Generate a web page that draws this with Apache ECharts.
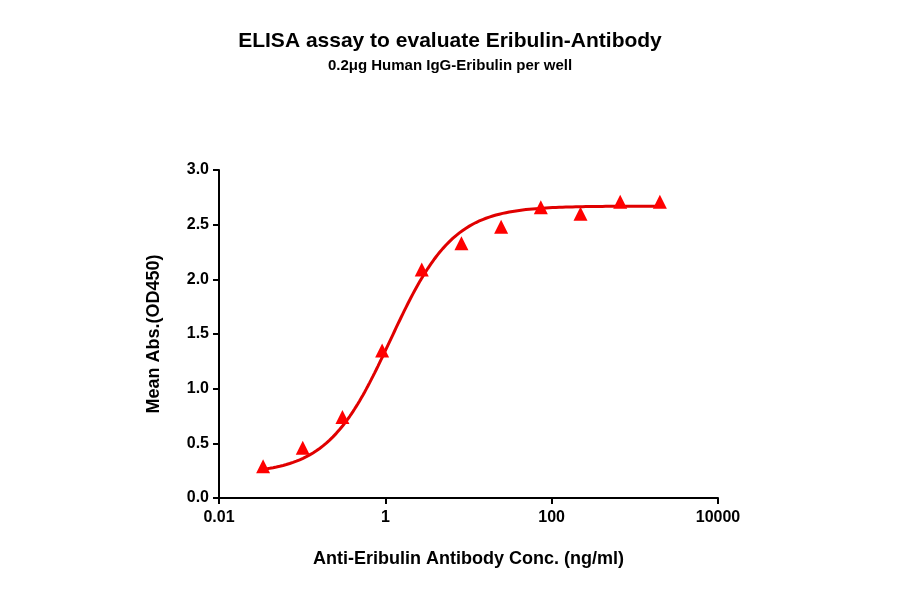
<!DOCTYPE html>
<html><head><meta charset="utf-8">
<script src="https://cdn.jsdelivr.net/npm/echarts@6/dist/echarts.min.js"></script>
<style>html,body{margin:0;padding:0;background:#fff}#c{width:900px;height:594px}</style>
</head><body><div id="c"></div>
<script>
const conc = [0.0339,0.1016,0.3048,0.9145,2.743,8.23,24.69,74.07,222.2,666.7,2000];
const od = [0.29,0.46,0.74,1.35,2.09,2.33,2.48,2.66,2.60,2.71,2.71];
const xTicks = ['0.01','1','100','10000'];
const fit = {bottom:0.22, top:2.67, ec50:1.15, hill:1.15};
const curve = [];
for (let e = Math.log10(0.0339); e <= Math.log10(2000)+1e-9; e += 0.02) {
  const x = Math.pow(10,e);
  curve.push([x, fit.bottom + (fit.top-fit.bottom)/(1+Math.pow(fit.ec50/x, fit.hill))]);
}
const font = 'Arial, "Liberation Sans", sans-serif';
const ch = echarts.init(document.getElementById('c'));
ch.setOption({
  animation:false,
  title:{text:'ELISA assay to evaluate Eribulin-Antibody',subtext:'0.2μg Human IgG-Eribulin per well',left:'center',top:26,itemGap:6,
    textStyle:{fontFamily:font,fontSize:21,fontWeight:'bold',color:'#000'},
    subtextStyle:{fontFamily:font,fontSize:15,fontWeight:'bold',color:'#000'}},
  grid:{left:219,right:182,top:170,bottom:96},
  xAxis:{type:'log',logBase:10,min:0.01,max:10000,interval:2,
    name:'Anti-Eribulin Antibody Conc. (ng/ml)',nameLocation:'middle',nameGap:52,
    nameTextStyle:{fontFamily:font,fontSize:18,fontWeight:'bold',color:'#000'},
    axisLine:{lineStyle:{color:'#000',width:2}},axisTick:{lineStyle:{color:'#000',width:2},length:6},
    splitLine:{show:false},minorTick:{show:false},
    axisLabel:{fontFamily:font,fontSize:16,fontWeight:'bold',color:'#000',margin:12,
      formatter:v=>{const s=String(+v.toPrecision(3));return xTicks.includes(s)?s:'';}}},
  yAxis:{type:'value',min:0,max:3,interval:0.5,
    name:'Mean Abs.(OD450)',nameLocation:'middle',nameGap:56,
    nameTextStyle:{fontFamily:font,fontSize:18,fontWeight:'bold',color:'#000'},
    axisLine:{show:true,lineStyle:{color:'#000',width:2}},axisTick:{show:true,lineStyle:{color:'#000',width:2},length:6},
    splitLine:{show:false},
    axisLabel:{fontFamily:font,fontSize:16,fontWeight:'bold',color:'#000',margin:10,formatter:v=>v.toFixed(1)}},
  series:[
    {type:'line',data:curve,showSymbol:false,smooth:false,lineStyle:{color:'#e00000',width:3},z:2},
    {type:'scatter',data:conc.map((c,i)=>[c,od[i]]),symbol:'triangle',symbolSize:14,itemStyle:{color:'#ff0000',opacity:1},z:3}
  ]
});
</script></body></html>
